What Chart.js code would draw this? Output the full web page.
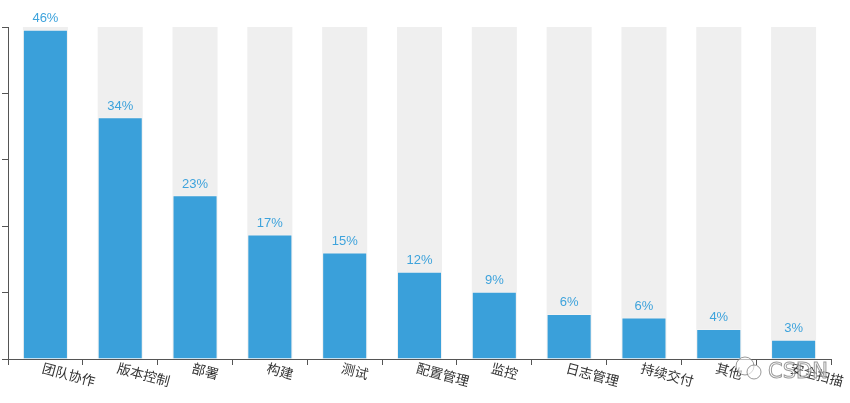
<!DOCTYPE html>
<html>
<head>
<meta charset="utf-8">
<script src="https://cdn.jsdelivr.net/npm/chart.js@4.4.0/dist/chart.umd.min.js"></script>
<style>
	html, body { margin: 0; padding: 0; background: #fff; }
	#wrap { width: 850px; height: 403px; position: relative; }
</style>
</head>
<body>
<div id="wrap"><canvas id="chart"></canvas></div>
<script>
// data
const categories = ['团队协作', '版本控制', '部署', '构建', '测试', '配置管理', '监控', '日志管理', '持续交付', '其他', '安全扫描'];
const shares = [46.0, 33.8, 22.9, 17.4, 14.9, 12.2, 9.4, 6.3, 5.8, 4.2, 2.7];
const yMax = 46.4;
const yTickCount = 5;

const blue = '#3aa0da';
const track = '#efefef';
const axisColor = '#555';

// rotated category labels (clockwise, like the original)
const xLabelPlugin = {
	id: 'xLabels',
	afterDraw(chart) {
		const ctx = chart.ctx;
		const xs = chart.scales.x;
		const bottom = chart.chartArea.bottom;
		ctx.save();
		ctx.font = '13.5px "Noto Sans CJK SC", sans-serif';
		ctx.fillStyle = '#333';
		ctx.textAlign = 'left';
		ctx.textBaseline = 'top';
		categories.forEach((name, i) => {
			const x = xs.getPixelForValue(i);
			ctx.save();
			ctx.translate(x - 1, bottom + 2);
			ctx.rotate(15 * Math.PI / 180);
			ctx.fillText(name, 0, 0);
			ctx.restore();
		});
		ctx.restore();
	}
};

// percentage above each bar
const valueLabelPlugin = {
	id: 'valueLabels',
	afterDatasetsDraw(chart) {
		const ctx = chart.ctx;
		const meta = chart.getDatasetMeta(0);
		ctx.save();
		ctx.font = '13px "Helvetica Neue", Helvetica, Arial, sans-serif';
		ctx.fillStyle = '#3ea3dc';
		ctx.textAlign = 'center';
		ctx.textBaseline = 'alphabetic';
		meta.data.forEach((bar, i) => {
			ctx.fillText(Math.round(shares[i]) + '%', bar.x, bar.y - 7.5);
		});
		ctx.restore();
	}
};

// csdn watermark in the corner
const watermarkPlugin = {
	id: 'watermark',
	afterDraw(chart) {
		const ctx = chart.ctx;
		ctx.save();
		ctx.strokeStyle = 'rgba(110,110,110,0.7)';
		ctx.fillStyle = 'rgba(255,255,255,0.6)';
		ctx.lineWidth = 1;
		ctx.beginPath();
		ctx.arc(745, 366, 9, 0, Math.PI * 2);
		ctx.fill();
		ctx.stroke();
		ctx.beginPath();
		ctx.arc(754, 372, 7, 0, Math.PI * 2);
		ctx.fill();
		ctx.stroke();
		ctx.font = '21px "DejaVu Sans", sans-serif';
		ctx.textBaseline = 'alphabetic';
		ctx.fillText('CSDN', 768, 378);
		ctx.strokeText('CSDN', 768, 378);
		ctx.restore();
	}
};

new Chart(document.getElementById('chart'), {
	type: 'bar',
	data: {
		labels: categories,
		datasets: [{
			data: shares,
			backgroundColor: blue,
			borderColor: 'rgba(255,255,255,0.25)',
			borderWidth: 1,
			grouped: false,
			categoryPercentage: 1,
			barPercentage: 0.602
		}, {
			data: categories.map(() => yMax),
			backgroundColor: track,
			grouped: false,
			categoryPercentage: 1,
			barPercentage: 0.602
		}]
	},
	options: {
		responsive: true,
		maintainAspectRatio: false,
		animation: false,
		layout: { padding: { left: 2, right: 19, top: 27, bottom: 38 } },
		plugins: {
			legend: { display: false },
			tooltip: { enabled: false }
		},
		scales: {
			x: {
				offset: true,
				grid: { offset: true, drawOnChartArea: false, tickLength: 6, color: axisColor },
				border: { color: axisColor },
				ticks: { display: false }
			},
			y: {
				min: 0,
				max: yMax,
				afterBuildTicks: (scale) => {
					const ticks = [];
					for (let i = 0; i <= yTickCount; i++) ticks.push({ value: yMax * i / yTickCount });
					scale.ticks = ticks;
				},
				afterFit: (scale) => { scale.width = 6; },
				grid: { drawOnChartArea: false, tickLength: 6, color: axisColor },
				border: { color: axisColor },
				ticks: { display: false }
			}
		}
	},
	plugins: [xLabelPlugin, valueLabelPlugin, watermarkPlugin]
});
</script>
</body>
</html>
